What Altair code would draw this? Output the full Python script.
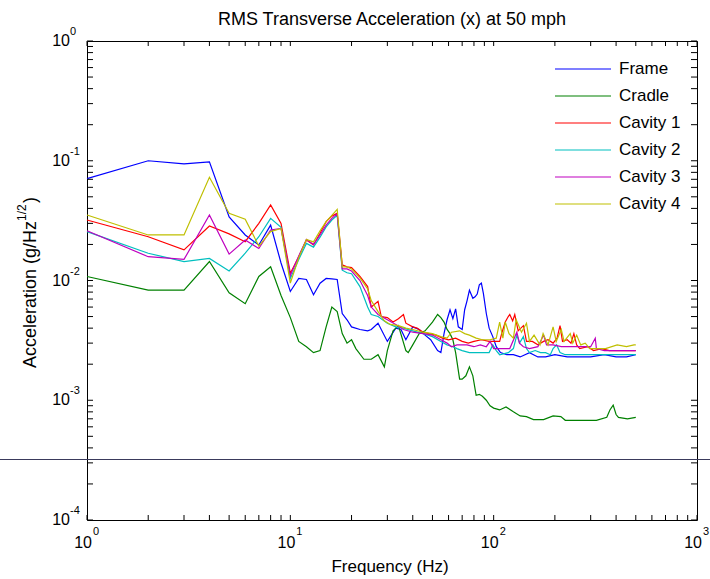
import altair as alt
import pandas as pd

series_names = ["Frame", "Cradle", "Cavity 1", "Cavity 2", "Cavity 3", "Cavity 4"]
series_colors = ["#0000FF", "#008000", "#FF0000", "#00BFBF", "#BF00BF", "#BFBF00"]

frame_pts = [
    (1, 0.071), (2, 0.100), (3, 0.094), (4, 0.098), (5, 0.034), (6, 0.024), (7, 0.0198), (8, 0.029), (9, 0.014), (10, 0.0081),
    (11, 0.0104), (12, 0.0102), (13, 0.0076), (14, 0.0095), (15, 0.0104), (16, 0.0103), (17, 0.0102), (18, 0.0053), (19, 0.0047), (20, 0.0041),
    (22, 0.0039), (24, 0.0038), (25, 0.0039), (27, 0.0044), (30, 0.0031), (33, 0.0040), (35, 0.0039), (37, 0.0032), (40, 0.0041), (43, 0.0039),
    (46, 0.0035), (49, 0.0032), (53, 0.0026), (55, 0.0025), (57, 0.0036), (59, 0.0047), (61, 0.0057), (63, 0.0048), (65, 0.0058), (67, 0.0041),
    (70, 0.0039), (72, 0.0057), (74, 0.0068), (76, 0.0083), (79, 0.0071), (81, 0.0073), (83, 0.0077), (85, 0.0092), (87, 0.0095), (89, 0.0078),
    (92, 0.0053), (95, 0.0040), (99, 0.0034), (103, 0.0028), (108, 0.0025), (116, 0.0024), (125, 0.0024), (135, 0.0023), (150, 0.0025), (165, 0.0023),
    (180, 0.0023), (200, 0.0024), (230, 0.0023), (260, 0.0023), (300, 0.0023), (350, 0.0024), (400, 0.0023), (450, 0.0023), (500, 0.0024),
]

cradle_pts = [
    (1, 0.0108), (2, 0.0083), (3, 0.0083), (4, 0.0144), (5, 0.0079), (6, 0.0064), (7, 0.0108), (8, 0.013), (9, 0.0075), (10, 0.0049),
    (11, 0.0031), (12, 0.0028), (13, 0.0025), (14, 0.0026), (15, 0.0041), (16, 0.0060), (17, 0.0055), (18, 0.0036), (19, 0.0030), (20, 0.0032),
    (21, 0.0027), (23, 0.0022), (25, 0.0022), (27, 0.0024), (29, 0.0019), (30, 0.0026), (32, 0.0038), (34, 0.0042), (37, 0.0026), (38, 0.0025),
    (40, 0.0029), (43, 0.0036), (46, 0.0038), (50, 0.0045), (53, 0.0052), (55, 0.0049), (57, 0.0045), (59, 0.0039), (61, 0.0036), (63, 0.0032),
    (65, 0.0025), (68, 0.0015), (70, 0.0015), (73, 0.0016), (76, 0.0019), (79, 0.0016), (82, 0.0011), (85, 0.00112), (88, 0.00108), (92, 0.0010),
    (96, 0.0009), (100, 0.00086), (107, 0.00083), (115, 0.00088), (125, 0.0008), (135, 0.00074), (145, 0.00073), (157, 0.00069), (176, 0.00069), (196, 0.00074),
    (214, 0.00073), (225, 0.00068), (266, 0.00068), (320, 0.00068), (360, 0.00072), (373, 0.00083), (387, 0.00091), (400, 0.00076), (411, 0.00072), (455, 0.0007),
    (500, 0.00072),
]

cavity1_pts = [
    (1, 0.032), (2, 0.0232), (3, 0.018), (4, 0.0285), (5, 0.0245), (6, 0.0211), (7, 0.030), (8, 0.0427), (9, 0.030), (10, 0.0115),
    (11, 0.0158), (12, 0.0218), (13, 0.0198), (14, 0.0248), (15, 0.031), (16, 0.0345), (17, 0.0364), (18, 0.0135), (19, 0.013), (20, 0.0128),
    (22, 0.0108), (24, 0.0089), (25, 0.0060), (27, 0.0067), (28, 0.0050), (30, 0.0049), (32, 0.0045), (34, 0.0048), (36, 0.0052), (37, 0.0044),
    (40, 0.0041), (42, 0.0040), (45, 0.0037), (48, 0.0036), (52, 0.0035), (56, 0.0033), (60, 0.0032), (65, 0.0033), (70, 0.0031), (75, 0.0030),
    (80, 0.0031), (87, 0.0032), (95, 0.0031), (100, 0.0031), (107, 0.0031), (110, 0.0037), (114, 0.0045), (118, 0.0050), (120, 0.0052), (124, 0.0046),
    (127, 0.0052), (132, 0.0038), (140, 0.0042), (145, 0.0031), (155, 0.0031), (165, 0.0029), (176, 0.0031), (185, 0.0032), (196, 0.0030), (205, 0.0033),
    (212, 0.0042), (218, 0.0031), (230, 0.0032), (240, 0.0030), (248, 0.0036), (256, 0.0029), (265, 0.0027), (290, 0.0028), (310, 0.0026), (340, 0.0027),
    (370, 0.0026), (400, 0.0026), (430, 0.0026), (465, 0.0026), (500, 0.0026),
]

cavity2_pts = [
    (1, 0.0256), (2, 0.0169), (3, 0.0144), (4, 0.0153), (5, 0.012), (6, 0.0169), (7, 0.0232), (8, 0.033), (9, 0.0278), (10, 0.0104),
    (11, 0.015), (12, 0.0204), (13, 0.019), (14, 0.023), (15, 0.028), (16, 0.032), (17, 0.035), (18, 0.0122), (19, 0.0116), (20, 0.0114),
    (22, 0.0089), (24, 0.0060), (25, 0.0052), (27, 0.0050), (30, 0.0044), (33, 0.0041), (36, 0.0040), (40, 0.0038), (45, 0.0036), (50, 0.0034),
    (55, 0.0031), (59, 0.0029), (63, 0.0028), (66, 0.0027), (70, 0.0026), (76, 0.0025), (85, 0.0025), (95, 0.0025), (99, 0.0029), (103, 0.0026),
    (107, 0.0024), (118, 0.0025), (125, 0.0027), (130, 0.0035), (134, 0.0030), (140, 0.0034), (145, 0.0027), (150, 0.0025), (160, 0.0026), (170, 0.0025),
    (180, 0.0025), (190, 0.0024), (196, 0.0027), (204, 0.0029), (212, 0.0025), (225, 0.0024), (250, 0.0024), (280, 0.0024), (320, 0.0024), (370, 0.0024),
    (420, 0.0024), (460, 0.0024), (500, 0.0024),
]

cavity3_pts = [
    (1, 0.026), (2, 0.0158), (3, 0.015), (4, 0.0352), (5, 0.0166), (6, 0.0218), (7, 0.0185), (8, 0.0264), (9, 0.0272), (10, 0.011),
    (11, 0.016), (12, 0.022), (13, 0.020), (14, 0.024), (15, 0.029), (16, 0.033), (17, 0.036), (18, 0.0125), (19, 0.0125), (20, 0.012),
    (22, 0.0100), (24, 0.0075), (25, 0.0060), (27, 0.0052), (30, 0.0047), (33, 0.0043), (36, 0.0039), (40, 0.0037), (45, 0.0036), (50, 0.0035),
    (55, 0.0032), (59, 0.0030), (62, 0.0028), (66, 0.0029), (70, 0.0029), (74, 0.0029), (80, 0.0028), (86, 0.0029), (92, 0.0028), (96, 0.0031),
    (100, 0.0027), (108, 0.0027), (120, 0.0027), (130, 0.0037), (134, 0.0030), (140, 0.0028), (150, 0.0027), (165, 0.0028), (176, 0.0035), (182, 0.0029),
    (196, 0.0029), (215, 0.0028), (240, 0.0028), (270, 0.0028), (300, 0.0028), (316, 0.0033), (320, 0.0027), (350, 0.0026), (400, 0.0026), (450, 0.0026),
    (500, 0.0026),
]

cavity4_pts = [
    (1, 0.0352), (2, 0.024), (3, 0.024), (4, 0.0727), (5, 0.0364), (6, 0.0325), (7, 0.0194), (8, 0.0256), (9, 0.0272), (10, 0.0095),
    (11, 0.0155), (12, 0.022), (13, 0.021), (14, 0.026), (15, 0.031), (16, 0.035), (17, 0.0393), (18, 0.013), (19, 0.013), (20, 0.0125),
    (22, 0.0105), (24, 0.0085), (25, 0.0068), (27, 0.0055), (29, 0.0046), (31, 0.0043), (34, 0.0042), (37, 0.0040), (40, 0.0039), (45, 0.0037),
    (50, 0.0036), (55, 0.0034), (59, 0.0033), (62, 0.0037), (68, 0.0038), (72, 0.0036), (76, 0.0035), (82, 0.0033), (88, 0.0032), (96, 0.0032),
    (103, 0.0033), (107, 0.0045), (111, 0.0033), (114, 0.0045), (119, 0.0036), (125, 0.0033), (129, 0.0047), (137, 0.0037), (145, 0.0044), (150, 0.0031),
    (158, 0.0035), (169, 0.0029), (175, 0.0036), (185, 0.0029), (196, 0.0041), (203, 0.0031), (215, 0.0039), (222, 0.0031), (238, 0.0036), (245, 0.0030),
    (256, 0.0035), (268, 0.0029), (282, 0.0030), (297, 0.0027), (330, 0.0027), (355, 0.0027), (405, 0.0029), (450, 0.0028), (490, 0.0029), (500, 0.0029),
]

x_major = [1, 10, 100, 1000]
x_exps = ["0", "1", "2", "3"]
x_minor = [2, 3, 4, 5, 6, 7, 8, 9, 20, 30, 40, 50, 60, 70, 80, 90, 200, 300, 400, 500, 600, 700, 800, 900]
y_major = [0.0001, 0.001, 0.01, 0.1, 1]
y_exps = ["-4", "-3", "-2", "-1", "0"]
y_minor = [0.0002, 0.0003, 0.0004, 0.0005, 0.0006, 0.0007, 0.0008, 0.0009,
           0.002, 0.003, 0.004, 0.005, 0.006, 0.007, 0.008, 0.009,
           0.02, 0.03, 0.04, 0.05, 0.06, 0.07, 0.08, 0.09,
           0.2, 0.3, 0.4, 0.5, 0.6, 0.7, 0.8, 0.9]
hline_value = [0.00032]

W, H = 610, 479
FONT = "Liberation Sans"

rows = []
for name, pts in zip(series_names, [frame_pts, cradle_pts, cavity1_pts, cavity2_pts, cavity3_pts, cavity4_pts]):
    for f, v in pts:
        rows.append({"series": name, "freq": f, "acc": v})
df = pd.DataFrame(rows)

xs = alt.Scale(type="log", domain=[1, 1000], nice=False)
ys = alt.Scale(type="log", domain=[0.0001, 1], nice=False)

lines = alt.Chart(df).mark_line(strokeWidth=1.2).encode(
    x=alt.X("freq:Q", scale=xs, axis=None),
    y=alt.Y("acc:Q", scale=ys, axis=None),
    color=alt.Color(
        "series:N",
        scale=alt.Scale(domain=series_names, range=series_colors),
        legend=alt.Legend(
            orient="none", legendX=467, legendY=20, title=None,
            symbolType="stroke", symbolSize=3136, symbolStrokeWidth=1.2,
            labelFontSize=17, labelFont=FONT, labelColor="black",
            clipHeight=16, rowPadding=10, labelOffset=7, padding=0,
        ),
    ),
    order=alt.Order("freq:Q"),
)

hline = alt.Chart(pd.DataFrame({"v": hline_value})).mark_rule(color="#3a3a5c", strokeWidth=1).encode(
    y=alt.Y("v:Q", scale=ys, axis=None), x=alt.value(-87), x2=alt.value(623)
)

xt_all = pd.DataFrame({"t": x_major + x_minor})
yt_all = pd.DataFrame({"t": y_major + y_minor})

tick_b = alt.Chart(xt_all).mark_rule(color="black", strokeWidth=1).encode(
    x=alt.X("t:Q", scale=xs, axis=None), y=alt.value(H), y2=alt.value(H - 5))
tick_t = alt.Chart(xt_all).mark_rule(color="black", strokeWidth=1).encode(
    x=alt.X("t:Q", scale=xs, axis=None), y=alt.value(0), y2=alt.value(5))
tick_l = alt.Chart(yt_all).mark_rule(color="black", strokeWidth=1).encode(
    y=alt.Y("t:Q", scale=ys, axis=None), x=alt.value(0), x2=alt.value(6))
tick_r = alt.Chart(yt_all).mark_rule(color="black", strokeWidth=1).encode(
    y=alt.Y("t:Q", scale=ys, axis=None), x=alt.value(W), x2=alt.value(W - 6))

xl = pd.DataFrame({"t": x_major, "e": x_exps})
yl = pd.DataFrame({"t": y_major, "e": y_exps})

xlab = alt.Chart(xl).mark_text(text="10", align="right", baseline="middle", dx=5, fontSize=16, font=FONT, color="black").encode(
    x=alt.X("t:Q", scale=xs, axis=None), y=alt.value(H + 23))
xexp = alt.Chart(xl).mark_text(align="left", baseline="middle", dx=6, fontSize=11, font=FONT, color="black").encode(
    x=alt.X("t:Q", scale=xs, axis=None), y=alt.value(H + 12), text="e:N")
ylab = alt.Chart(yl).mark_text(text="10", align="right", baseline="middle", fontSize=16, font=FONT, color="black").encode(
    y=alt.Y("t:Q", scale=ys, axis=None), x=alt.value(-17))
yexp = alt.Chart(yl).mark_text(align="left", baseline="middle", dy=-9, fontSize=11, font=FONT, color="black").encode(
    y=alt.Y("t:Q", scale=ys, axis=None), x=alt.value(-17), text="e:N")

one = pd.DataFrame({"k": [0]})
title = alt.Chart(one).mark_text(text="RMS Transverse Acceleration (x) at 50 mph", align="center", baseline="middle",
                                 fontSize=18, font=FONT, color="black").encode(x=alt.value(W / 2), y=alt.value(-21))
xtitle = alt.Chart(one).mark_text(text="Frequency (Hz)", align="center", baseline="middle",
                                  fontSize=17, font=FONT, color="black").encode(x=alt.value(303), y=alt.value(526))
ytitle_main = alt.Chart(one).mark_text(text="Acceleration (g/Hz", angle=270, align="right", baseline="alphabetic",
                                       fontSize=18, font=FONT, color="black").encode(x=alt.value(-51), y=alt.value(180))
ytitle_sup = alt.Chart(one).mark_text(text="1/2", angle=270, align="left", baseline="alphabetic", dy=-10,
                                      fontSize=12, font=FONT, color="black").encode(x=alt.value(-51), y=alt.value(180))
ytitle_paren = alt.Chart(one).mark_text(text=")", angle=270, align="left", baseline="alphabetic", dx=18,
                                        fontSize=18, font=FONT, color="black").encode(x=alt.value(-51), y=alt.value(180))

chart = alt.layer(
    hline, lines, tick_b, tick_t, tick_l, tick_r, xlab, xexp, ylab, yexp,
    title, xtitle, ytitle_main, ytitle_sup, ytitle_paren,
).properties(
    width=W, height=H, autosize="none",
    padding={"left": 87, "top": 41, "right": 13, "bottom": 59},
    background="white",
).configure_view(stroke="black", strokeWidth=1)

chart.save("out.html", embed_options={"renderer": "svg", "actions": False})
